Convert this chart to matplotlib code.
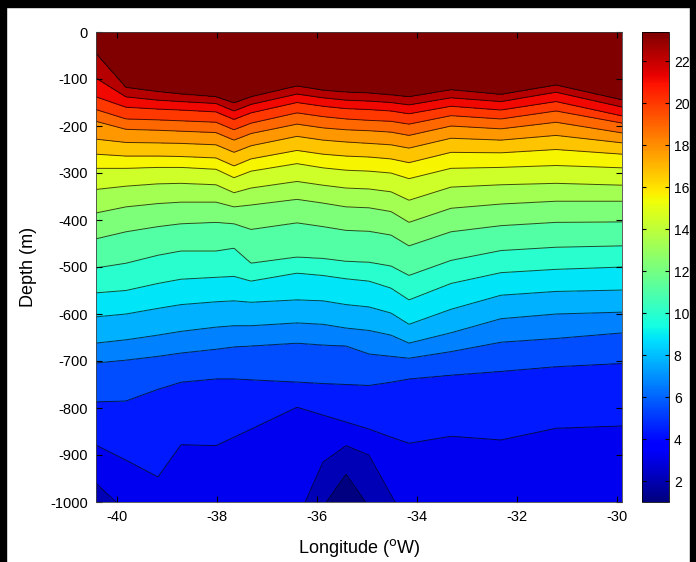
import numpy as np
import matplotlib.pyplot as plt
from matplotlib.patches import Rectangle
from matplotlib.colors import Normalize
from matplotlib.cm import ScalarMappable

plt.rcParams['font.family'] = ['Liberation Sans', 'DejaVu Sans']
plt.rcParams['axes.unicode_minus'] = False

lon_pts = [-40.42, -39.82, -39.18, -38.72, -38.02, -37.66, -37.32, -36.40, -35.88,
           -35.42, -34.96, -34.52, -34.16, -33.32, -32.32, -31.22, -29.88]

# contour levels (deg C); colorbar spans the same range
levels = np.linspace(1.0, 23.4, 21)

# depth (m, positive down) of each contour line, warmest (levels[20]) first
iso_depth = [
    [45, 118, 127, 132, 138, 151, 138, 115, 124, 128, 130, 134, 138, 123, 133, 113, 145],
    [98, 138, 145, 148, 152, 168, 154, 132, 140, 145, 147, 150, 155, 140, 148, 128, 160],
    [138, 160, 164, 166, 170, 186, 172, 150, 158, 163, 165, 168, 174, 158, 166, 148, 179],
    [165, 185, 187, 189, 192, 208, 194, 172, 180, 185, 188, 190, 196, 178, 185, 168, 194],
    [190, 207, 209, 211, 214, 230, 216, 196, 204, 208, 210, 213, 220, 200, 206, 192, 215],
    [228, 235, 236, 237, 240, 256, 242, 222, 230, 234, 237, 240, 247, 226, 230, 220, 236],
    [260, 264, 264, 265, 268, 285, 270, 252, 260, 264, 266, 270, 278, 256, 257, 250, 260],
    [290, 290, 288, 288, 292, 310, 296, 280, 289, 294, 296, 300, 312, 290, 288, 284, 289],
    [335, 328, 323, 322, 325, 342, 332, 318, 326, 332, 334, 340, 358, 330, 325, 322, 326],
    [385, 372, 365, 362, 362, 372, 368, 356, 364, 372, 374, 382, 405, 375, 366, 360, 360],
    [440, 425, 414, 408, 405, 408, 420, 406, 414, 422, 424, 432, 455, 425, 412, 405, 404],
    [502, 492, 475, 466, 466, 460, 492, 479, 482, 488, 490, 498, 518, 486, 465, 458, 455],
    [555, 550, 535, 526, 522, 520, 530, 513, 518, 525, 530, 545, 570, 535, 512, 505, 500],
    [606, 600, 588, 580, 574, 572, 575, 570, 572, 580, 585, 598, 622, 590, 560, 552, 549],
    [662, 655, 645, 637, 628, 625, 625, 619, 622, 630, 635, 645, 662, 640, 610, 600, 596],
    [704, 698, 690, 683, 675, 670, 668, 662, 666, 668, 685, 690, 694, 680, 660, 652, 640],
    [787, 785, 760, 745, 738, 738, 740, 745, 748, 750, 752, 745, 738, 730, 722, 712, 705],
    [879, 911, 947, 878, 880, 862, 845, 798, 815, 830, 845, 862, 875, 860, 868, 843, 838],
    [960, 1020, 1060, 1070, 1080, 1080, 1070, 1040, 915, 880, 900, 985, 1050, 1060, 1080, 1080, 1080],
    [1100, 1150, 1150, 1150, 1150, 1150, 1150, 1100, 1010, 940, 1010, 1100, 1150, 1150, 1150, 1150, 1150],
]

# build the temperature section from the isotherm depths
lon = np.linspace(lon_pts[0], lon_pts[-1], 500)
depth = np.linspace(0, 1000, 600)
temp = np.zeros((len(depth), len(lon)))
lev_down = list(levels[::-1][:-1])          # 23.4 ... 2.12
for i, x in enumerate(lon):
    d = [np.interp(x, lon_pts, row) for row in iso_depth]
    temp[:, i] = np.interp(depth, [0] + d + [1300], [26.0] + lev_down + [levels[0]])

band_colors = [plt.cm.jet((lv - levels[0]) / (levels[-1] - levels[0])) for lv in levels]

fig = plt.figure(figsize=(6.96, 5.62), dpi=100)
ax = fig.add_axes([96/696, 60/562, 526/696, 470/562])
cax = fig.add_axes([642/696, 60/562, 27/696, 470/562])

ax.contourf(lon, -depth, temp, levels=list(levels) + [30], colors=band_colors)
ax.contour(lon, -depth, temp, levels=levels[1:], colors='k', linewidths=0.7, alpha=0.7)

ax.set_xlim(-40.42, -29.9)
ax.set_ylim(-1000, 0)
ax.set_xticks(np.arange(-40, -29, 2))
ax.set_yticks(np.arange(-1000, 1, 100))
ax.tick_params(direction='in', top=True, right=True, length=4, labelsize=10.5, pad=6)
ax.set_xlabel('Longitude ($^{\\mathrm{o}}$W)', fontsize=13)
ax.set_ylabel('Depth (m)', fontsize=13)
ax.xaxis.set_label_coords(0.5, -0.075)
ax.yaxis.set_label_coords(-0.112, 0.5)
for s in ax.spines.values():
    s.set_linewidth(0.6)
    s.set_color('#444444')

sm = ScalarMappable(norm=Normalize(levels[0], levels[-1]), cmap='jet')
cb = fig.colorbar(sm, cax=cax)
cb.set_ticks(np.arange(2, 23, 2))
cb.ax.tick_params(direction='in', length=3, labelsize=10, left=True, right=True)
cb.outline.set_linewidth(0.6)

# dark frame around the picture
for r in [(0, 0, 6/696, 1), (0, 1 - 7/562, 1, 7/562), (690/696, 0, 6/696, 1)]:
    fig.patches.append(Rectangle(r[:2], r[2], r[3], transform=fig.transFigure,
                                 color='black', zorder=10))

fig.savefig('out.png', dpi=100)
